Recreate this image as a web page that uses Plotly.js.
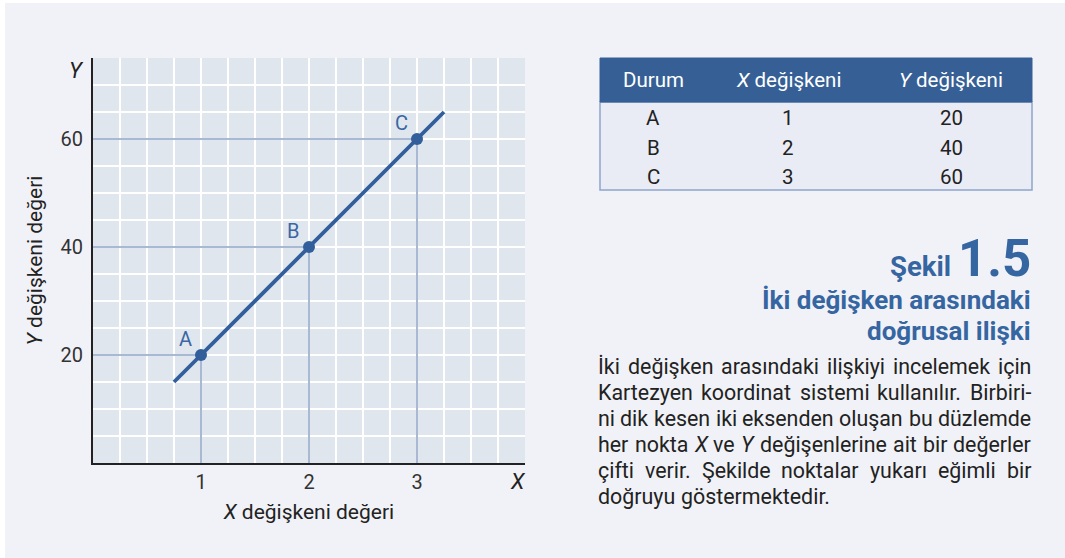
<!DOCTYPE html>
<html>
<head>
<meta charset="utf-8">
<script src="https://cdn.plot.ly/plotly-3.0.1.min.js"></script>
<style>
  html, body { margin: 0; padding: 0; background: #ffffff; }
  #chart { position: absolute; left: 5px; top: 3px; width: 1060px; height: 555px; }
</style>
</head>
<body>
<div id="chart"></div>
<script>
// ---------- data ----------
const pointLabels = ['A', 'B', 'C'];
const xValues = [1, 2, 3];
const yValues = [20, 40, 60];
const lineX = [0.75, 3.25];
const lineY = [15, 65];
const xTickLabels = ['1', '2', '3'];
const yTickLabels = ['20', '40', '60'];

const tableHeaders = ['Durum', '<i>X</i> değişkeni', '<i>Y</i> değişkeni'];
const tableDurum = ['A', 'B', 'C'];
const tableX = ['1', '2', '3'];
const tableY = ['20', '40', '60'];

const figureLabel = 'Şekil';
const figureNumber = '1.5';
const figureTitleLines = ['İki değişken arasındaki', 'doğrusal ilişki'];
const bodyLines = [
  'İki değişken arasındaki ilişkiyi incelemek için',
  'Kartezyen koordinat sistemi kullanılır. Birbiri-',
  'ni dik kesen iki eksenden oluşan bu düzlemde',
  'her nokta <i>X</i> ve <i>Y</i> değişenlerine ait bir değerler',
  'çifti verir. Şekilde noktalar yukarı eğimli bir',
  'doğruyu göstermektedir.'
];

// ---------- styles ----------
const FONT = 'Roboto, "Noto Sans", sans-serif';
const BLUE = '#325f9b';
const GUIDE = '#a9b9d3';
const TITLEBLUE = '#3666a1';

// plot area in page pixels: x 93..525, y 58..463
const PL = 93, PR = 525, PT = 58, PB = 463;
const px = x => (x - PL) / (PR - PL);
const py = y => (PB - y) / (PB - PT);

const xRange = [0, 4], yRange = [0, 75];
const gridX = [], gridY = [];
for (let v = 0; v <= 4.0001; v += 0.25) gridX.push(+v.toFixed(2));
for (let v = 0; v <= 75; v += 5) gridY.push(v);

const traces = [];
xValues.forEach((x, i) => {
  traces.push({
    x: [0, x, x], y: [yValues[i], yValues[i], 0],
    mode: 'lines', line: { color: GUIDE, width: 2 },
    hoverinfo: 'skip', showlegend: false
  });
});
traces.push({
  x: lineX, y: lineY, mode: 'lines',
  line: { color: BLUE, width: 3.8 }, showlegend: false, hoverinfo: 'skip'
});
traces.push({
  x: xValues, y: yValues, mode: 'markers',
  marker: { color: BLUE, size: 12 }, showlegend: false
});

const annotations = [];
function ann(o) {
  annotations.push(Object.assign({ xref: 'paper', yref: 'paper', showarrow: false,
    xanchor: 'center', yanchor: 'middle', borderpad: 0, borderwidth: 0 }, o));
}
pointLabels.forEach((t, i) => {
  ann({ x: xValues[i], y: yValues[i], xref: 'x', yref: 'y', text: t,
    xshift: -16, yshift: 16, font: { family: FONT, size: 20, color: '#3a66a3' } });
});
ann({ x: px(518), y: py(481), text: '<i>X</i>', font: { family: FONT, size: 22, color: '#222' } });
ann({ x: px(76), y: py(70), text: '<i>Y</i>', font: { family: FONT, size: 22, color: '#222' } });

// ---------- table ----------
const colCenters = [653, 788, 951];
const rowCenters = [118, 148, 177];
const shapes = [
  { type: 'rect', xref: 'paper', yref: 'paper', x0: px(600), x1: px(1032), y0: py(190), y1: py(102),
    fillcolor: '#e9ecf4', line: { color: '#8ea5cb', width: 1.5 }, layer: 'below' },
  { type: 'rect', xref: 'paper', yref: 'paper', x0: px(600), x1: px(1032), y0: py(102), y1: py(58),
    fillcolor: '#365f96', line: { color: '#365f96', width: 1 }, layer: 'below' }
];
tableHeaders.forEach((h, c) => {
  ann({ x: px(colCenters[c]), y: py(80), text: h, font: { family: FONT, size: 20.5, color: '#ffffff' } });
});
[tableDurum, tableX, tableY].forEach((col, c) => {
  col.forEach((v, r) => {
    ann({ x: px(colCenters[c]), y: py(rowCenters[r]), text: v, font: { family: FONT, size: 20.5, color: '#222' } });
  });
});

// ---------- figure title ----------
ann({ x: px(1031), y: py(258), xanchor: 'right',
  text: '<b>' + figureLabel + ' <span style="font-size:51px">' + figureNumber + '</span></b>',
  font: { family: FONT, size: 27.5, color: TITLEBLUE } });
[300, 331].forEach((yc, i) => {
  ann({ x: px(1031), y: py(yc), xanchor: 'right', text: '<b>' + figureTitleLines[i] + '</b>',
    font: { family: FONT, size: 26, color: TITLEBLUE } });
});

// ---------- justified body text ----------
const BODY_SIZE = 21.4;
const cv = document.createElement('canvas').getContext('2d');
function wordWidth(w) {
  let total = 0;
  const parts = w.split(/(<i>.*?<\/i>)/).filter(s => s.length);
  parts.forEach(p => {
    if (p.startsWith('<i>')) {
      cv.font = 'italic ' + BODY_SIZE + 'px Roboto';
      total += cv.measureText(p.replace(/<\/?i>/g, '')).width;
    } else {
      cv.font = BODY_SIZE + 'px Roboto';
      total += cv.measureText(p).width;
    }
  });
  return total;
}
const TL = 598, TR = 1031;
const lineCenters = [366, 392, 418, 444, 470, 496.5];
bodyLines.forEach((line, li) => {
  const words = line.split(' ');
  const widths = words.map(wordWidth);
  const sum = widths.reduce((a, b) => a + b, 0);
  const last = li === bodyLines.length - 1;
  cv.font = BODY_SIZE + 'px Roboto';
  const gap = last ? cv.measureText(' ').width : (TR - TL - sum) / (words.length - 1);
  let xpos = TL;
  words.forEach((w, wi) => {
    ann({ x: px(xpos), y: py(lineCenters[li]), xanchor: 'left', text: w,
      font: { family: FONT, size: BODY_SIZE, color: '#222' } });
    xpos += widths[wi] + gap;
  });
});

const layout = {
  width: 1060, height: 555,
  margin: { l: PL - 5, r: 1060 - (PR - 5), t: PT - 3, b: 555 - (PB - 3) },
  paper_bgcolor: '#f1f2f7',
  plot_bgcolor: '#e0e6ee',
  showlegend: false,
  xaxis: {
    range: xRange, tickmode: 'array', tickvals: gridX,
    ticktext: gridX.map(v => { const k = xValues.indexOf(v); return k >= 0 ? xTickLabels[k] : ''; }),
    showgrid: true, gridcolor: '#ffffff', gridwidth: 1.5, zeroline: false,
    showline: true, linecolor: '#222', linewidth: 2, ticks: '',
    tickfont: { family: FONT, size: 20, color: '#333' },
    title: { text: '<i>X</i> değişkeni değeri', standoff: 11, font: { family: FONT, size: 21, color: '#222' } },
    fixedrange: true
  },
  yaxis: {
    range: yRange, tickmode: 'array', tickvals: gridY,
    ticktext: gridY.map(v => { const k = yValues.indexOf(v); return k >= 0 ? yTickLabels[k] : ''; }),
    showgrid: true, gridcolor: '#ffffff', gridwidth: 1.5, zeroline: false,
    showline: true, linecolor: '#222', linewidth: 2, ticks: '', ticklabelstandoff: 4,
    tickfont: { family: FONT, size: 20, color: '#333' },
    title: { text: '<i>Y</i> değişkeni değeri', standoff: 12, font: { family: FONT, size: 21, color: '#222' } },
    fixedrange: true
  },
  shapes: shapes,
  annotations: annotations
};

Plotly.newPlot('chart', traces, layout, { displayModeBar: false, staticPlot: true });
</script>
</body>
</html>
